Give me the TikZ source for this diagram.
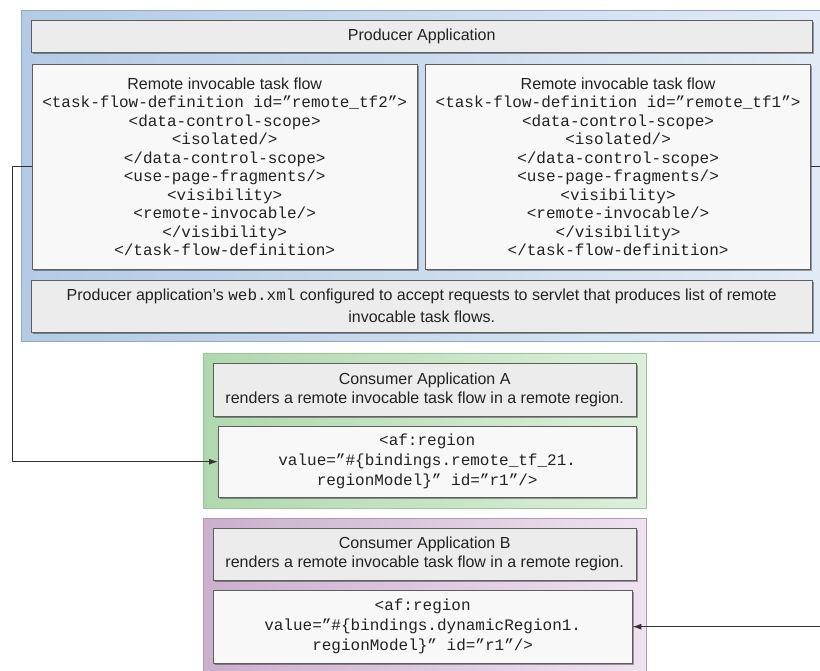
\documentclass[tikz,border=0pt]{standalone}
\usepackage{fontspec}
\setmainfont{Liberation Sans}
\setmonofont{Liberation Mono}
\usepackage{tikz}
\usetikzlibrary{arrows.meta,positioning,shadows}
\usepackage{xcolor}
\definecolor{prodleft}{HTML}{B3CBE6}
\definecolor{prodright}{HTML}{E2EBF5}
\definecolor{prodedge}{HTML}{8EA8C6}
\definecolor{consaleft}{HTML}{B0D8AE}
\definecolor{consaright}{HTML}{DDEFDB}
\definecolor{consaedge}{HTML}{9AC698}
\definecolor{consbleft}{HTML}{CBAFCD}
\definecolor{consbright}{HTML}{EEE3EF}
\definecolor{consbedge}{HTML}{B598B7}
\definecolor{titlegray}{HTML}{ECECEC}
\definecolor{codewhite}{HTML}{F8F8F8}
\definecolor{boxedge}{HTML}{5E5E5E}
\definecolor{linedark}{HTML}{333333}
\definecolor{textdark}{HTML}{222222}

\newcommand{\tfdefinition}[1]{%
  {\rmfamily Remote invocable task flow}\\
  <task-flow-definition id=”#1”>\\
  <data-control-scope>\\
  <isolated/>\\
  </data-control-scope>\\
  <use-page-fragments/>\\
  <visibility>\\
  <remote-invocable/>\\
  </visibility>\\
  </task-flow-definition>}

\begin{document}
\begin{tikzpicture}[
  x=1pt,y=-1pt,
  every node/.style={font=\fontsize{16}{19}\selectfont,text=textdark},
  panel/.style={anchor=north west,inner sep=0pt},
  prodbg/.style={panel,draw=prodedge,left color=prodleft,right color=prodright},
  consabg/.style={panel,draw=consaedge,left color=consaleft,right color=consaright},
  consbbg/.style={panel,draw=consbedge,left color=consbleft,right color=consbright},
  boxshadow/.style={drop shadow={shadow xshift=1.5pt,shadow yshift=-1.5pt,fill=black,opacity=.35}},
  titlebox/.style={panel,draw=boxedge,fill=titlegray,boxshadow,align=center},
  codebox/.style={panel,draw=boxedge,fill=codewhite,boxshadow,align=center,
    font=\ttfamily\fontsize{16}{18.5}\selectfont},
  arr/.style={-{Latex[length=9pt,width=6pt]},draw=linedark,line width=1pt}
]
\useasboundingbox (0,0) rectangle (820,671);

% producer application
\node[prodbg,minimum width=799,minimum height=331] (producer) at (21,10) {};
\node[titlebox,minimum width=781,minimum height=32] (prodtitle) at (31,20) {Producer Application};
\node[codebox,minimum width=385,minimum height=205] (tfleft) at (32,64) {\tfdefinition{remote\_tf2}};
\node[codebox,minimum width=385,minimum height=205,anchor=west,right=8pt of tfleft] (tfright) {\tfdefinition{remote\_tf1}};
\node[titlebox,minimum width=781,minimum height=52,font=\fontsize{16}{22}\selectfont] (webxml) at (31,280)
  {Producer application’s {\ttfamily web.xml} configured to accept requests to servlet that produces list of remote\\
   invocable task flows.};

% consumer application A
\node[consabg,minimum width=443,minimum height=155] (consa) at (203,353) {};
\node[titlebox,minimum width=423,minimum height=53] (consatitle) at (213,363)
  {Consumer Application A\\renders a remote invocable task flow in a remote region.};
\node[codebox,minimum width=418,minimum height=71,font=\ttfamily\fontsize{16}{20}\selectfont] (regiona) at (218,426)
  {<af:region\\value=”\#\{bindings.remote\_tf\_21.\\regionModel\}” id=”r1”/>};

% consumer application B
\node[consbbg,minimum width=443,minimum height=153] (consb) at (203,518) {};
\node[titlebox,minimum width=423,minimum height=52] (consbtitle) at (213,528)
  {Consumer Application B\\renders a remote invocable task flow in a remote region.};
\node[codebox,minimum width=419,minimum height=73,font=\ttfamily\fontsize{16}{20}\selectfont] (regionb) at (213,590)
  {<af:region\\value=”\#\{bindings.dynamicRegion1.\\regionModel\}” id=”r1”/>};

% connectors
\coordinate (leftrail) at (12,0);
\coordinate (rightrail) at (820,0);
\draw[arr] (tfleft.west) -- (tfleft.west -| leftrail) |- (regiona.west);
\draw[draw=linedark,line width=1pt] (tfright.east) -- (tfright.east -| rightrail);
\draw[arr] (regionb.east -| rightrail) -- (regionb.east);
\end{tikzpicture}
\end{document}
